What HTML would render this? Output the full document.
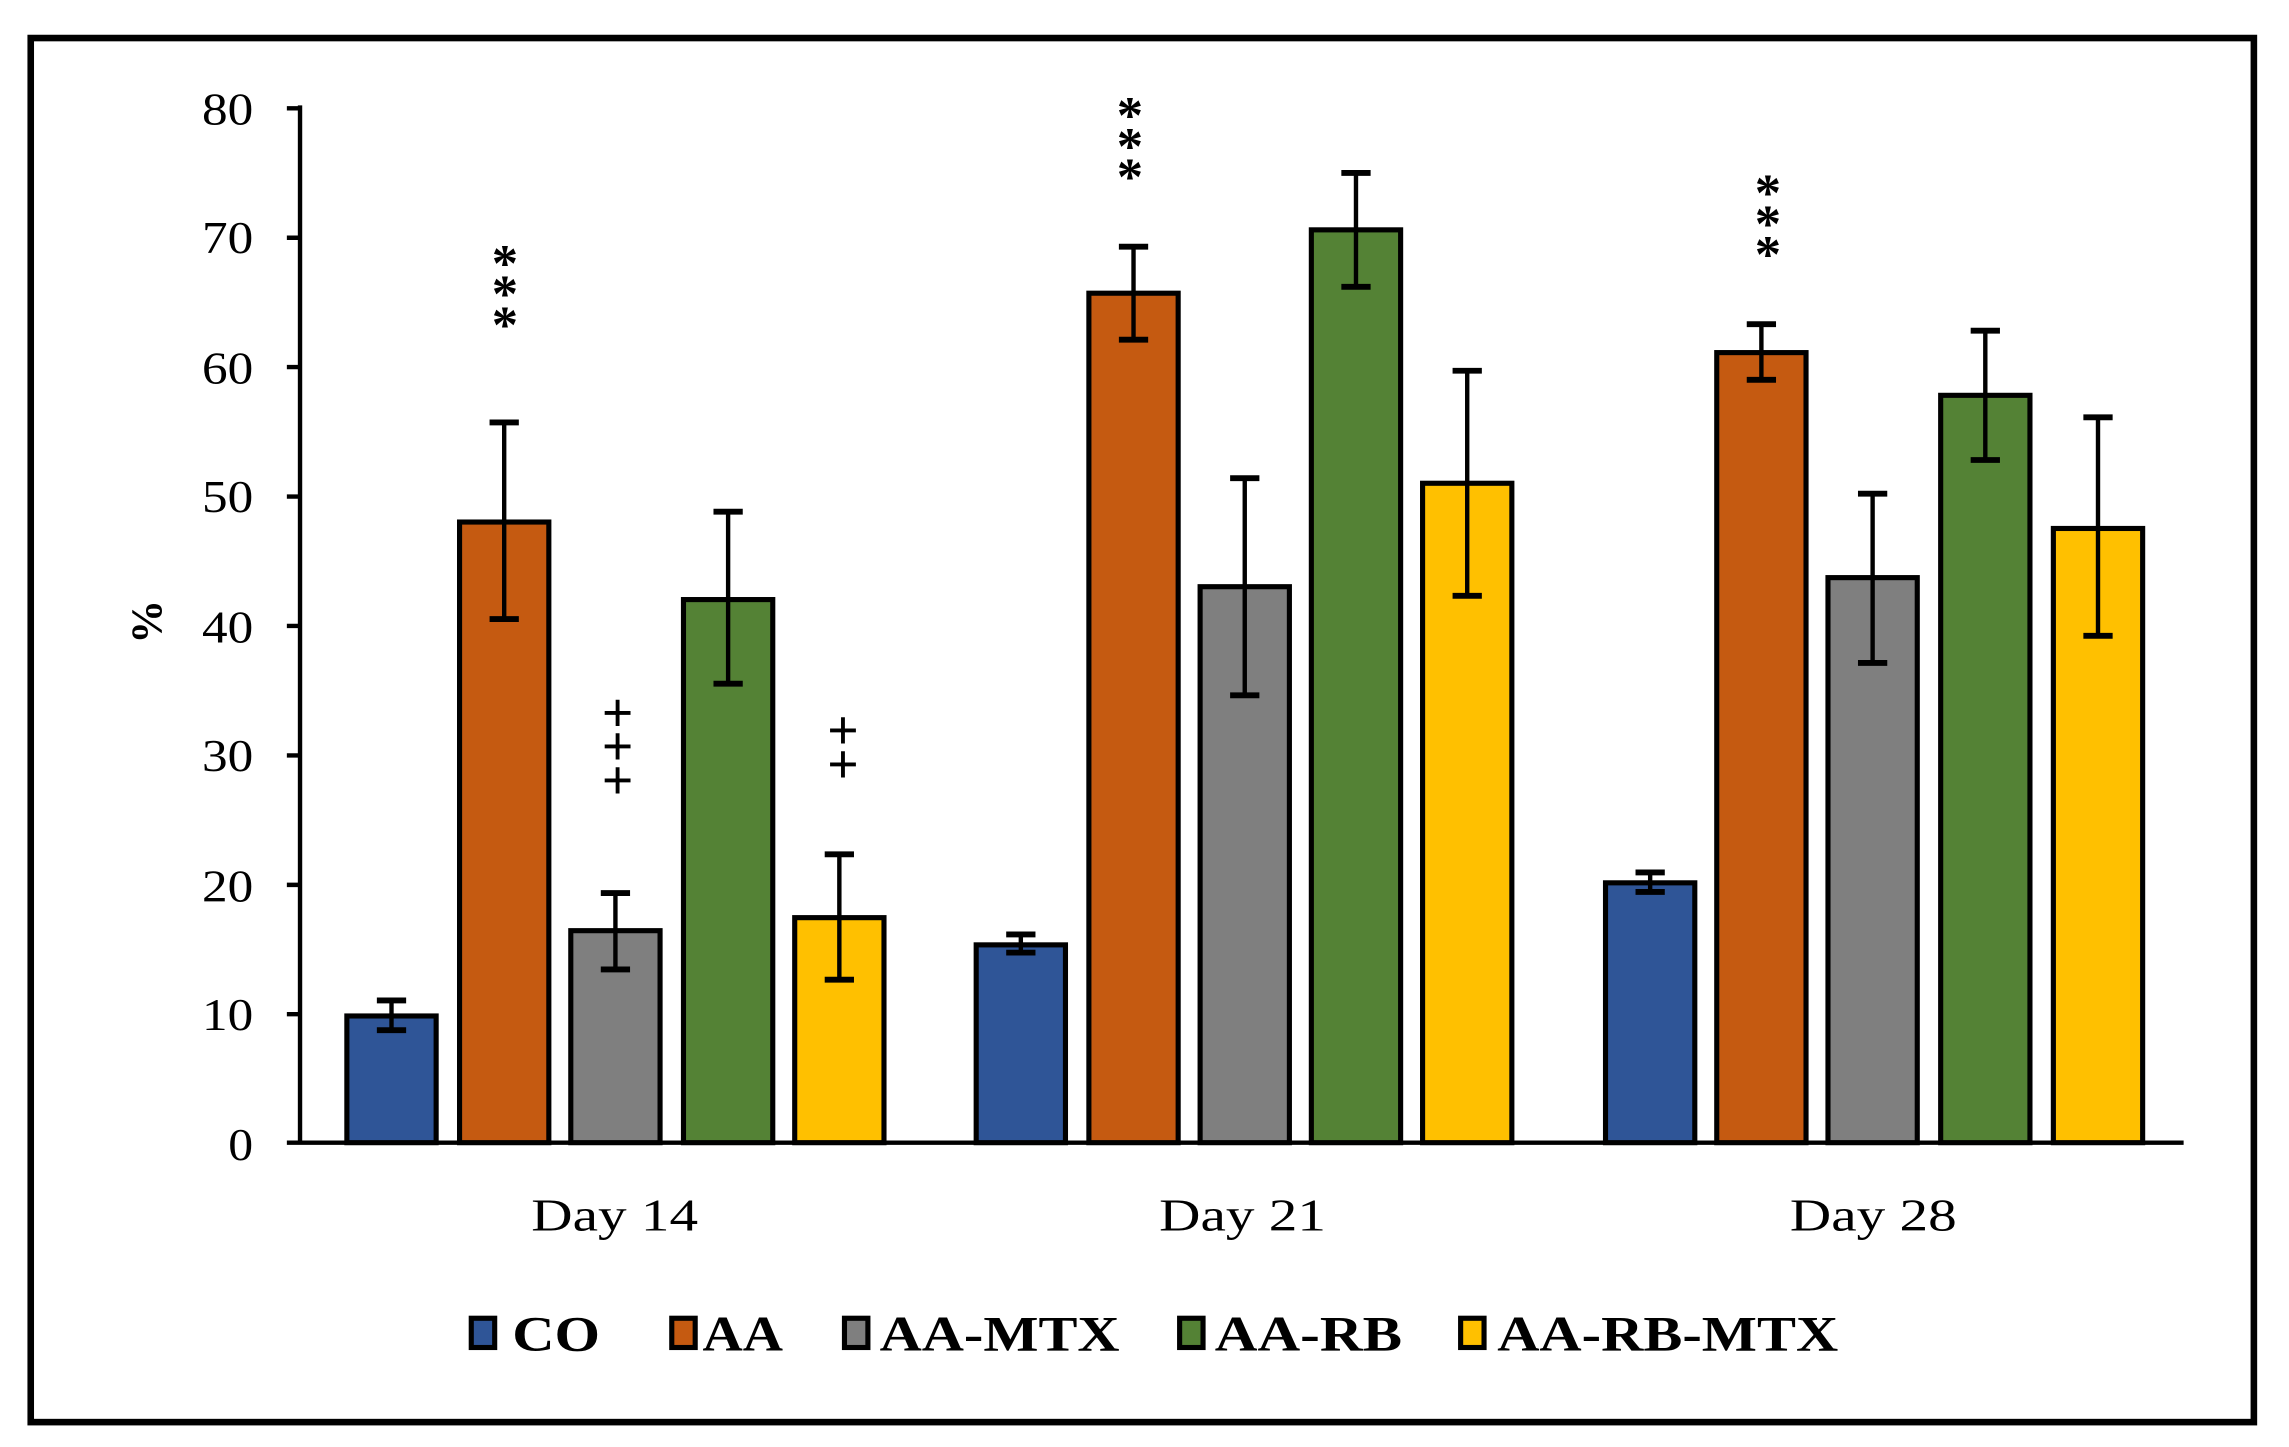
<!DOCTYPE html>
<html><head><meta charset="utf-8"><style>
html,body{margin:0;padding:0;background:#fff;}
svg{display:block;}
text{font-family:"Liberation Serif","Times New Roman",serif;fill:#000;}
</style></head><body>
<svg width="2289" height="1447" viewBox="0 0 1564 989" preserveAspectRatio="none" xmlns="http://www.w3.org/2000/svg">
<rect x="0" y="0" width="1564" height="989" fill="#fff"/>
<rect x="21" y="26" width="1519" height="946" fill="none" stroke="#000" stroke-width="4.5"/>
<g stroke="#000" stroke-width="3">
<line x1="205" y1="72" x2="205" y2="782"/>
<line x1="196" y1="781" x2="1492" y2="781"/>
<path d="M196 74H205M196 162.5H205M196 250.9H205M196 339.4H205M196 427.8H205M196 516.3H205M196 604.8H205M196 693.2H205"/>
</g>
<g font-size="31" text-anchor="end">
<text x="173" y="85" textLength="35" lengthAdjust="spacingAndGlyphs">80</text>
<text x="173" y="173" textLength="35" lengthAdjust="spacingAndGlyphs">70</text>
<text x="173" y="262" textLength="35" lengthAdjust="spacingAndGlyphs">60</text>
<text x="173" y="350" textLength="35" lengthAdjust="spacingAndGlyphs">50</text>
<text x="173" y="439" textLength="35" lengthAdjust="spacingAndGlyphs">40</text>
<text x="173" y="527" textLength="35" lengthAdjust="spacingAndGlyphs">30</text>
<text x="173" y="616" textLength="35" lengthAdjust="spacingAndGlyphs">20</text>
<text x="173" y="704" textLength="35" lengthAdjust="spacingAndGlyphs">10</text>
<text x="173" y="793" textLength="17" lengthAdjust="spacingAndGlyphs">0</text>
</g>
<text x="0" y="0" font-size="30" font-weight="bold" text-anchor="middle" transform="translate(110,425) rotate(-90)">%</text>
<g stroke="#000" stroke-width="3.5">
<rect x="237" y="694.4" width="61" height="86.6" fill="#2F5597"/>
<rect x="314" y="356.8" width="61" height="424.2" fill="#C55A11"/>
<rect x="390" y="636.1" width="61" height="144.9" fill="#7F7F7F"/>
<rect x="467" y="409.8" width="61" height="371.2" fill="#548235"/>
<rect x="543" y="627.2" width="61" height="153.8" fill="#FFC000"/>
<rect x="667" y="645.8" width="61" height="135.2" fill="#2F5597"/>
<rect x="744" y="200.4" width="61" height="580.6" fill="#C55A11"/>
<rect x="820" y="401" width="61" height="380" fill="#7F7F7F"/>
<rect x="896" y="157.1" width="61" height="623.9" fill="#548235"/>
<rect x="972" y="330.3" width="61" height="450.7" fill="#FFC000"/>
<rect x="1097" y="603.4" width="61" height="177.6" fill="#2F5597"/>
<rect x="1173" y="241" width="61" height="540" fill="#C55A11"/>
<rect x="1249" y="394.8" width="61" height="386.2" fill="#7F7F7F"/>
<rect x="1326" y="270.2" width="61" height="510.8" fill="#548235"/>
<rect x="1403" y="361.2" width="61" height="419.8" fill="#FFC000"/>
</g>
<path stroke="#000" stroke-width="3" fill="none" d="
M267.5 704.1V683.8M344.5 423.1V288.7M420.5 662.6V610.4M497.5 467.3V349.7M573.5 669.6V583.9
M697.5 651.1V638.7M774.5 232.2V168.6M850.5 475.2V326.8M926.5 196V118.2M1002.5 407.2V253.4
M1127.5 609.6V596.3M1203.5 259.6V221.6M1279.5 453.1V337.4M1356.5 314.4V226M1433.5 434.6V285.2"/>
<path stroke="#000" stroke-width="4" fill="none" d="
M257.5 704.1h20M257.5 683.8h20M334.5 423.1h20M334.5 288.7h20M410.5 662.6h20M410.5 610.4h20M487.5 467.3h20M487.5 349.7h20M563.5 669.6h20M563.5 583.9h20
M687.5 651.1h20M687.5 638.7h20M764.5 232.2h20M764.5 168.6h20M840.5 475.2h20M840.5 326.8h20M916.5 196h20M916.5 118.2h20M992.5 407.2h20M992.5 253.4h20
M1117.5 609.6h20M1117.5 596.3h20M1193.5 259.6h20M1193.5 221.6h20M1269.5 453.1h20M1269.5 337.4h20M1346.5 314.4h20M1346.5 226h20M1423.5 434.6h20M1423.5 285.2h20"/>
<g font-size="31" text-anchor="middle">
<text x="420" y="841" textLength="114" lengthAdjust="spacingAndGlyphs">Day 14</text>
<text x="849" y="841" textLength="114" lengthAdjust="spacingAndGlyphs">Day 21</text>
<text x="1280" y="841" textLength="114" lengthAdjust="spacingAndGlyphs">Day 28</text>
</g>
<g stroke="#000" stroke-width="3.5">
<rect x="322" y="901" width="16" height="20" fill="#2F5597"/>
<rect x="459" y="901" width="16" height="20" fill="#C55A11"/>
<rect x="577" y="901" width="16" height="20" fill="#7F7F7F"/>
<rect x="806" y="901" width="16" height="20" fill="#548235"/>
<rect x="998" y="901" width="16" height="20" fill="#FFC000"/>
</g>
<g font-size="34" font-weight="bold">
<text x="350" y="923" textLength="60" lengthAdjust="spacingAndGlyphs">CO</text>
<text x="480" y="923" textLength="55" lengthAdjust="spacingAndGlyphs">AA</text>
<text x="601" y="923" textLength="164" lengthAdjust="spacingAndGlyphs">AA-MTX</text>
<text x="830" y="923" textLength="128" lengthAdjust="spacingAndGlyphs">AA-RB</text>
<text x="1023" y="923" textLength="233" lengthAdjust="spacingAndGlyphs">AA-RB-MTX</text>
</g>
<g font-size="36" font-weight="bold" text-anchor="middle">
<text x="345" y="192">*</text><text x="345" y="213">*</text><text x="345" y="234">*</text>
<text x="772" y="91">*</text><text x="772" y="112">*</text><text x="772" y="133">*</text>
<text x="1208" y="144">*</text><text x="1208" y="165">*</text><text x="1208" y="186">*</text>
</g>
<g font-size="38" font-weight="bold" text-anchor="middle" font-family="Liberation Sans, sans-serif">
<text x="422" y="500">+</text><text x="422" y="523">+</text><text x="422" y="546">+</text>
<text x="576" y="512">+</text><text x="576" y="535">+</text>
</g>
</svg>
</body></html>
